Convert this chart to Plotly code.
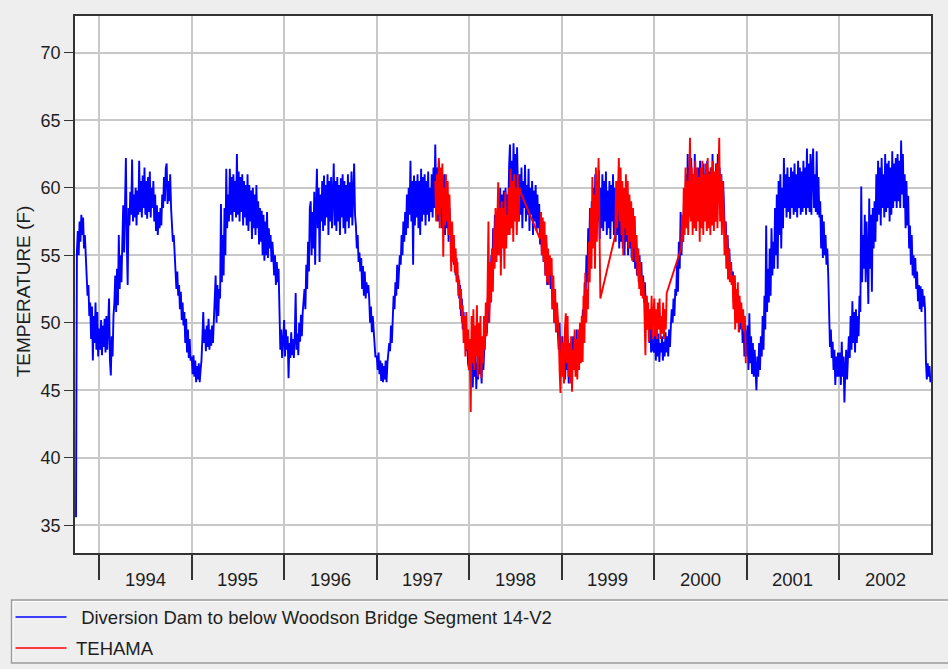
import pandas as pd
import plotly.graph_objects as go

# ---- data: water temperature (deg F), sampled twice a week -------------------
series_names = [" Diversion Dam to below Woodson Bridge Segment 14-V2", "TEHAMA"]
series_colors = ["#0000FF", "#FF0000"]
STEP = "84h"  # 3.5 days between readings

# Segment 14-V2 model output, one list per calendar year
seg_starts = ["1993-10-01", "1994-01-01", "1995-01-01", "1996-01-01", "1997-01-01",
              "1998-01-01", "1999-01-01", "2000-01-01", "2001-01-01", "2002-01-01"]
seg_1993 = [35.6, 55.2, 56.8, 55.0, 57.5, 56.0, 58.0, 56.5, 57.8, 55.5, 56.5, 54.8, 53.5,
            52.0, 52.8, 50.5, 51.5, 48.8, 51.2, 47.2, 50.5, 48.5, 51.5, 48.0, 50.8, 47.5, 49.5]
seg_1994 = [49.5, 48.0, 50.2, 47.6, 49.8, 48.2, 50.3, 47.8, 50.5, 48.0, 49.5, 51.8, 47.2,
            46.1, 49.0, 47.5, 50.5, 51.5, 53.5, 50.8, 54.0, 51.3, 56.5, 52.5, 55.0, 53.0,
            56.0, 58.7, 55.2, 58.0, 62.2, 56.0, 52.8, 58.5, 57.2, 59.7, 58.0, 62.1, 57.5,
            59.5, 57.8, 60.0, 57.2, 59.8, 58.0, 62.0, 58.2, 60.5, 57.8, 60.9, 58.5, 61.5,
            58.0, 60.5, 57.7, 60.8, 58.2, 61.2, 57.8, 60.0, 58.5, 60.5, 57.5, 59.5, 56.8,
            58.7, 56.5, 58.2, 57.0, 58.5, 57.2, 59.5, 58.5, 60.8, 59.0, 61.4, 61.8, 58.8,
            60.5, 59.0, 61.0, 58.5, 57.5, 56.0, 56.5, 55.0, 54.3, 52.5, 53.8, 52.0, 52.8,
            51.0, 52.3, 50.2, 51.5, 49.8, 50.8, 48.5, 50.3, 47.8, 49.5, 47.4, 48.8, 47.2]
seg_1995 = [47.5, 46.2, 47.6, 46.0, 47.2, 45.6, 46.8, 45.8, 47.0, 45.6, 46.5, 47.2, 48.8,
            50.8, 48.5, 49.5, 47.9, 49.8, 48.2, 50.3, 48.0, 49.5, 48.3, 49.8, 48.5, 50.0,
            51.0, 53.5, 50.0, 52.8, 50.5, 52.5, 51.8, 58.8, 53.0, 56.5, 53.5, 58.5, 55.0,
            61.4, 57.0, 59.5, 57.5, 61.4, 58.0, 60.8, 57.5, 61.0, 58.2, 60.5, 57.8, 62.5,
            58.0, 61.2, 57.5, 60.8, 58.2, 61.0, 57.2, 60.5, 57.8, 60.2, 57.2, 61.0, 56.8,
            60.2, 57.5, 59.8, 56.2, 60.0, 57.0, 59.5, 56.5, 60.2, 57.0, 59.0, 55.8, 58.5,
            56.0, 58.3, 55.0, 58.0, 54.6, 57.5, 55.0, 58.2, 54.8, 57.0, 55.5, 56.5, 54.5,
            56.0, 55.0, 53.5, 55.0, 52.8, 54.5, 53.0, 54.0, 50.3, 48.0, 49.5, 47.4, 48.5]
seg_1996 = [50.2, 47.5, 49.5, 48.0, 49.0, 45.9, 48.5, 47.4, 49.3, 47.6, 48.8, 47.4, 49.0,
            52.2, 48.0, 49.2, 47.6, 50.0, 48.6, 50.6, 49.0, 50.8, 51.5, 52.5, 51.0, 54.3,
            52.5, 56.0, 53.8, 58.5, 59.0, 55.0, 58.2, 55.5, 59.7, 54.3, 58.5, 61.4, 57.0,
            60.0, 54.5, 59.5, 57.5, 60.5, 56.8, 60.9, 57.2, 60.2, 57.8, 61.0, 56.5, 60.5,
            57.5, 60.8, 57.0, 60.3, 61.8, 57.2, 60.5, 56.8, 60.8, 57.5, 60.2, 56.5, 60.7,
            57.8, 61.0, 57.0, 60.5, 56.6, 60.2, 57.5, 61.0, 57.0, 60.4, 57.8, 61.2, 57.2,
            60.5, 61.8, 58.0, 57.2, 55.5, 56.5, 54.5, 55.2, 53.8, 54.8, 52.5, 54.2, 52.0,
            53.8, 51.8, 53.0, 52.2, 52.8, 51.8, 50.0, 51.2, 49.3, 50.5, 49.5, 48.8, 47.5]
seg_1997 = [47.5, 46.5, 47.8, 46.2, 47.2, 45.7, 47.0, 45.6, 46.8, 45.8, 47.2, 45.6, 47.0,
            47.9, 48.5, 47.9, 49.8, 48.5, 50.8, 52.0, 51.0, 53.0, 52.0, 54.3, 52.5, 53.8,
            55.0, 54.3, 56.5, 55.0, 57.5, 56.0, 58.2, 56.5, 59.5, 57.0, 60.0, 58.0, 62.0,
            57.5, 60.5, 54.3, 60.9, 57.2, 60.5, 57.8, 61.0, 57.0, 60.5, 56.5, 61.4, 57.5,
            60.8, 58.0, 61.0, 57.2, 60.5, 58.0, 61.2, 57.5, 60.0, 58.2, 61.0, 57.8, 61.5,
            58.5, 63.2, 59.0, 61.5, 57.5, 62.0, 58.0, 61.0, 57.0, 60.5, 57.5, 61.0, 56.5,
            60.0, 57.0, 59.5, 56.0, 58.5, 56.5, 57.2, 54.5, 56.5, 54.3, 55.5, 53.5, 54.8,
            53.0, 53.5, 51.8, 52.8, 50.5, 51.8, 49.5, 50.8, 48.5, 49.8, 47.9, 48.8, 47.0]
seg_1998 = [46.5, 48.0, 45.6, 47.8, 45.2, 47.5, 46.0, 48.3, 45.1, 47.0, 45.8, 48.0, 46.2,
            47.5, 45.5, 48.3, 46.5, 48.0, 48.8, 50.5, 49.2, 51.8, 50.0, 51.5, 52.5, 55.0,
            53.5, 57.0, 54.5, 58.0, 55.5, 57.5, 55.0, 59.0, 56.0, 60.0, 54.5, 59.5, 56.5,
            59.8, 56.0, 60.0, 57.0, 59.5, 58.0, 61.5, 63.2, 59.0, 62.0, 58.5, 63.3, 59.5,
            62.5, 58.5, 63.0, 60.0, 57.5, 61.0, 58.0, 61.5, 57.0, 60.5, 58.5, 61.7, 57.5,
            60.2, 58.0, 61.4, 56.8, 60.0, 58.0, 60.5, 56.5, 59.8, 57.5, 60.2, 56.8, 59.5,
            57.0, 58.8, 55.8, 58.2, 55.0, 57.5, 54.5, 56.5, 53.5, 56.0, 52.8, 55.0, 53.0,
            54.8, 52.5, 53.5, 51.0, 52.5, 50.0, 51.5, 49.3, 50.8, 49.5, 48.0, 50.0, 47.2]
seg_1999 = [47.5, 49.0, 46.2, 48.5, 45.8, 48.0, 46.5, 48.8, 45.5, 47.8, 46.0, 48.5, 46.5,
            49.0, 46.8, 48.2, 47.0, 49.5, 46.5, 48.8, 47.5, 49.5, 48.0, 49.5, 51.0, 50.0,
            53.0, 51.5, 55.0, 53.0, 57.0, 54.5, 58.5, 55.5, 59.0, 56.5, 60.0, 57.0, 61.0,
            56.5, 60.5, 57.5, 61.3, 56.2, 60.0, 57.0, 61.0, 56.8, 60.5, 57.5, 61.2, 56.5,
            59.8, 57.0, 60.5, 56.2, 60.2, 57.5, 61.0, 56.5, 60.0, 56.0, 59.5, 56.5, 60.5,
            55.5, 59.0, 56.0, 60.0, 55.5, 59.5, 55.0, 58.5, 56.0, 59.0, 55.0, 58.0, 55.5,
            58.5, 54.8, 57.9, 54.5, 57.0, 54.0, 56.5, 53.5, 55.5, 53.0, 55.0, 52.5, 54.5,
            52.0, 53.5, 51.5, 53.0, 51.0, 52.0, 49.5, 51.0, 48.5, 50.5, 47.8, 49.8, 48.0]
seg_2000 = [47.8, 49.5, 47.2, 48.8, 47.5, 49.2, 47.1, 48.5, 47.8, 49.0, 47.2, 48.6, 47.5,
            49.3, 47.8, 49.0, 47.5, 49.5, 48.2, 49.8, 51.0, 50.0, 51.8, 50.5, 52.5, 52.0,
            54.5, 52.3, 56.0, 54.0, 58.2, 55.0, 57.5, 56.0, 59.5, 57.0, 61.0, 57.5, 62.5,
            58.0, 61.5, 57.8, 62.2, 58.5, 61.0, 57.5, 62.5, 58.0, 61.2, 57.8, 61.5, 58.2,
            62.0, 57.5, 61.0, 58.0, 61.8, 57.8, 61.0, 58.5, 62.0, 57.5, 61.2, 58.0, 61.5,
            57.8, 62.5, 58.5, 61.0, 57.5, 61.8, 58.2, 62.5, 59.0, 61.5, 58.0, 61.0, 57.5,
            60.5, 58.5, 56.0, 57.5, 55.0, 56.5, 54.5, 55.5, 53.5, 54.5, 52.8, 53.8, 51.5,
            53.5, 50.5, 52.5, 50.0, 52.0, 49.3, 51.5, 49.5, 50.8, 48.5, 50.3, 47.5, 49.5]
seg_2001 = [47.5, 49.8, 46.5, 50.7, 47.0, 49.0, 46.2, 48.5, 46.0, 48.0, 46.5, 45.0, 47.5,
            46.0, 48.5, 46.5, 49.0, 47.5, 50.5, 48.0, 52.0, 49.5, 57.2, 50.8, 54.0, 51.5,
            55.5, 52.0, 57.0, 53.5, 56.0, 54.0, 58.5, 55.0, 59.5, 54.0, 60.5, 56.5, 61.0,
            55.5, 60.0, 57.0, 62.2, 58.5, 61.0, 57.8, 61.5, 58.2, 60.8, 57.7, 61.5, 58.5,
            61.2, 58.0, 61.8, 58.2, 61.0, 57.8, 62.0, 58.5, 61.5, 58.0, 61.2, 58.2, 62.0,
            58.5, 61.5, 58.0, 62.9, 58.5, 61.8, 58.2, 62.5, 58.0, 61.5, 62.9, 58.5, 61.0,
            58.2, 62.7, 58.0, 60.8, 57.8, 59.0, 55.5, 58.0, 54.8, 57.5, 55.0, 56.5, 54.3,
            55.5, 53.6, 49.8, 48.2, 49.5, 47.4, 48.6, 46.5, 48.0, 45.4, 47.5, 46.0, 47.8]
seg_2002 = [46.0, 47.8, 45.4, 48.6, 46.0, 47.5, 44.1, 46.5, 48.0, 45.8, 47.5, 49.0, 47.4,
            50.5, 48.0, 51.6, 48.5, 50.8, 47.8, 51.0, 48.5, 50.5, 49.0, 52.0, 50.8, 60.1,
            53.0, 56.5, 54.0, 58.0, 53.0, 57.5, 55.0, 51.4, 59.2, 54.0, 58.0, 52.3, 58.5,
            55.5, 59.0, 56.0, 61.0, 57.5, 62.0, 58.0, 61.5, 57.2, 62.2, 58.5, 61.0, 57.8,
            62.5, 58.2, 61.8, 58.5, 62.0, 57.5, 61.5, 58.0, 62.7, 58.5, 61.8, 59.0, 62.2,
            58.5, 62.5, 59.0, 62.0, 58.5, 63.5, 59.5, 62.5, 58.5, 61.0, 57.0, 60.5, 57.2,
            59.4, 55.5, 57.2, 54.3, 56.5, 53.5, 55.0, 53.3, 54.8, 52.5, 53.8, 51.6, 52.8,
            51.0, 52.7, 50.8, 52.5, 51.2, 52.0, 51.0, 47.1, 45.8, 47.0, 46.0, 46.8, 45.6]
seg_values = [seg_1993, seg_1994, seg_1995, seg_1996, seg_1997,
              seg_1998, seg_1999, seg_2000, seg_2001, seg_2002]

# TEHAMA gauge, four continuous stretches (joined across the gaps)
teh_starts = ["1997-08-20", "1998-10-08", "1999-08-01", "2000-04-17"]
teh_1 = [60.5, 57.5, 61.0, 58.0, 62.2, 57.0, 61.5, 58.5, 61.8, 54.9, 60.0, 57.2, 61.0,
         57.5, 60.5, 56.5, 59.5, 57.0, 53.8, 57.5, 54.5, 56.5, 53.7, 55.5, 53.0, 54.5,
         52.0, 53.2, 51.0, 52.5, 50.0, 51.3, 48.5, 50.5, 47.5, 50.8, 48.0, 49.5, 46.5,
         48.8, 43.4, 50.5, 47.0, 51.0, 46.5, 49.8, 47.5, 51.3, 46.0, 50.0, 47.5, 50.5,
         45.9, 49.0, 47.0, 50.5, 48.0, 51.5, 49.0, 52.5, 57.5, 50.0, 54.5, 51.5, 55.5,
         52.3, 57.0, 54.0, 58.5, 54.5, 57.5, 60.4, 55.0, 58.5, 53.5, 59.0, 55.5, 58.5,
         54.0, 59.7, 55.5, 58.0, 56.5, 60.0, 56.5, 61.4, 57.0, 60.5, 56.0, 61.0, 57.5,
         60.0, 56.5, 61.0, 57.5, 60.0, 59.7]
teh_2 = [56.2, 58.2, 55.0, 57.8, 54.5, 57.5, 53.5, 56.5, 53.0, 55.5, 52.8, 55.0, 53.5,
         54.8, 51.0, 53.5, 50.0, 52.5, 49.3, 51.5, 50.0, 49.3, 46.5, 44.8, 49.0, 46.0,
         48.5, 45.5, 49.5, 50.7, 47.0, 50.5, 46.0, 48.5, 45.5, 49.0, 44.9, 48.0, 46.5,
         49.5, 46.0, 48.8, 45.8, 49.5, 46.5, 50.0, 47.0, 50.5, 47.1, 52.0, 48.5, 53.7,
         50.0, 52.5, 51.0, 56.0, 53.0, 58.5, 54.0, 60.8, 55.5, 59.5, 54.0, 61.5, 56.0,
         60.0, 62.2, 57.0, 51.8]
teh_3 = [56.5, 60.5, 57.0, 61.0, 62.2, 57.5, 61.5, 56.5, 60.5, 55.0, 60.0, 57.0, 61.0,
         56.5, 60.5, 55.5, 59.5, 56.0, 59.0, 54.6, 58.5, 55.5, 57.9, 54.5, 56.5, 53.5,
         55.5, 52.5, 54.5, 52.0, 53.5, 51.8, 53.0, 50.5, 47.6, 52.0, 49.5, 51.5, 48.6,
         51.0, 49.5, 52.0, 48.8, 50.5, 51.8, 49.0, 51.0, 48.8, 51.5, 49.5, 51.8, 48.8,
         50.5, 49.2, 51.5, 48.8, 51.0, 49.5, 52.2]
teh_4 = [55.5, 58.0, 56.0, 60.0, 56.5, 61.5, 57.0, 60.5, 56.5, 61.0, 63.7, 57.5, 61.5,
         56.5, 61.0, 57.0, 62.0, 56.8, 61.5, 57.5, 60.8, 56.0, 61.5, 57.0, 62.0, 56.5,
         61.0, 57.5, 61.8, 56.8, 62.2, 57.0, 61.0, 56.5, 61.5, 57.2, 62.0, 56.8, 61.2,
         57.5, 61.8, 57.0, 61.5, 63.7, 57.5, 61.0, 56.5, 60.5, 58.5, 55.0, 57.5, 54.0,
         56.5, 53.2, 55.5, 53.0, 54.5, 52.8, 53.5, 51.0, 53.5, 49.5, 52.5, 50.0, 53.0,
         49.3, 52.0, 50.0, 51.5, 49.5, 51.0, 49.3, 50.5, 47.0]
teh_values = [teh_1, teh_2, teh_3, teh_4]

years = list(range(1994, 2003))
y_ticks = [35, 40, 45, 50, 55, 60, 65, 70]


def timeline(starts, chunks):
    xs, ys = [], []
    for start, vals in zip(starts, chunks):
        xs.extend(pd.date_range(start, periods=len(vals), freq=STEP))
        ys.extend(vals)
    return xs, ys


seg_x, seg_y = timeline(seg_starts, seg_values)
teh_x, teh_y = timeline(teh_starts, teh_values)

# ---- geometry (pixels) -----------------------------------------------------
W, H = 948, 669
L, R, T, B = 74.5, 931.5, 16, 553


def px(x):
    return (x - L) / (R - L)


def py(y):
    return (B - y) / (B - T)


FONT = "Liberation Sans, Arial, sans-serif"
TEXT = "#1E1E1E"
GRID = "#C8C8C8"
FRAME = "#333333"

fig = go.Figure()
fig.add_trace(go.Scatter(x=seg_x, y=seg_y, mode="lines", name=series_names[0],
                         line=dict(color=series_colors[0], width=1.9)))
fig.add_trace(go.Scatter(x=teh_x, y=teh_y, mode="lines", name=series_names[1],
                         line=dict(color=series_colors[1], width=1.9)))

x_range = ["1993-09-27", "2002-12-30"]

fig.update_layout(
    width=W, height=H,
    margin=dict(l=L, r=W - R, t=T, b=H - B, pad=0, autoexpand=False),
    paper_bgcolor="#EEEEEE", plot_bgcolor="#FFFFFF",
    showlegend=False,
    font=dict(family=FONT, size=18, color=TEXT),
    xaxis=dict(type="date", range=x_range,
               tickvals=[f"{y}-01-01" for y in years], showticklabels=False,
               ticks="outside", ticklen=25, tickwidth=1.5, tickcolor=FRAME,
               showgrid=True, gridcolor=GRID, gridwidth=1.5,
               showline=True, linecolor=FRAME, linewidth=1.5, mirror=True,
               zeroline=False, fixedrange=True),
    yaxis=dict(range=[32.95, 72.72], tickvals=y_ticks,
               ticks="outside", ticklen=9, tickwidth=1, tickcolor=FRAME,
               tickfont=dict(size=18, color=TEXT),
               showgrid=True, gridcolor=GRID, gridwidth=1.5,
               showline=True, linecolor=FRAME, linewidth=1.5, mirror=True,
               zeroline=False, fixedrange=True),
)

# year labels centred in each calendar year, between the tick marks
for y in years:
    fig.add_annotation(x=f"{y}-07-02", y=py(579), xref="x", yref="paper",
                       text=str(y), showarrow=False, xanchor="center", yanchor="middle",
                       font=dict(size=18.5, color=TEXT))

# axis title
fig.add_annotation(x=px(23.3), y=py(291.5), xref="paper", yref="paper",
                   text="TEMPERATURE (F)", textangle=-90, showarrow=False,
                   xanchor="center", yanchor="middle", font=dict(size=19, color=TEXT))

# legend panel with etched border
fig.add_shape(type="rect", xref="paper", yref="paper",
              x0=px(11), x1=px(950), y0=py(600), y1=py(663),
              line=dict(color="#9A9A9A", width=1.5), fillcolor="#EEEEEE", layer="below")
fig.add_shape(type="line", xref="paper", yref="paper",
              x0=px(12.5), x1=px(950), y0=py(601.5), y1=py(601.5),
              line=dict(color="#FFFFFF", width=1))
fig.add_shape(type="line", xref="paper", yref="paper",
              x0=px(12.5), x1=px(12.5), y0=py(601.5), y1=py(662),
              line=dict(color="#FFFFFF", width=1))

for name, color, ly in zip(series_names, series_colors, [617, 648]):
    fig.add_shape(type="line", xref="paper", yref="paper",
                  x0=px(15), x1=px(66), y0=py(ly), y1=py(ly),
                  line=dict(color=color, width=1.5))
    fig.add_annotation(x=px(73.5), y=py(ly), xref="paper", yref="paper",
                       text=name.replace(" ", "&nbsp;", 1) if name.startswith(" ") else name,
                       showarrow=False, xanchor="left", yanchor="middle",
                       font=dict(size=18.5, color=TEXT))

fig.write_html("out.html")
